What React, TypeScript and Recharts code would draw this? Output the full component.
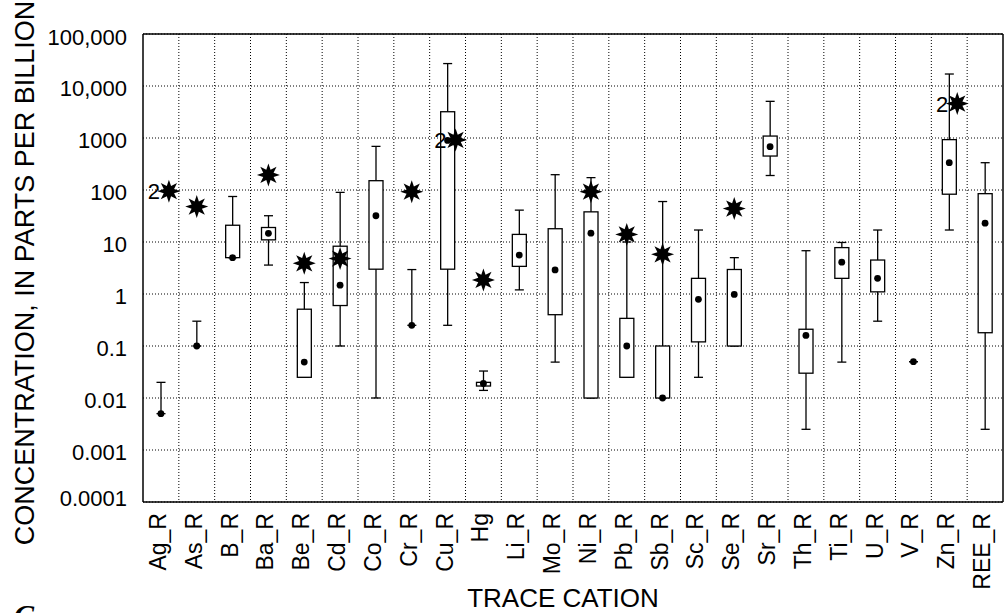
import {
  Bar,
  CartesianGrid,
  ComposedChart,
  Scatter,
  XAxis,
  YAxis,
} from "recharts";

// trace cations, one box per category
const categories = [
  "Ag_R", "As_R", "B_R", "Ba_R", "Be_R", "Cd_R", "Co_R", "Cr_R",
  "Cu_R", "Hg", "Li_R", "Mo_R", "Ni_R", "Pb_R", "Sb_R", "Sc_R",
  "Se_R", "Sr_R", "Th_R", "Ti_R", "U_R", "V_R", "Zn_R", "REE_R",
];

// concentrations in parts per billion
const whiskerLow = [
  0.005, 0.1, 5, 3.6, 0.025, 0.1, 0.01, 0.25, 0.25, 0.014, 1.2, 0.049,
  0.01, 0.025, 0.01, 0.025, 0.1, 190, 0.0025, 0.049, 0.3, 0.05, 17, 0.0025,
];
const boxLow = [
  null, null, 5, 11, 0.025, 0.6, 3, null, 3, 0.017, 3.4, 0.4,
  0.01, 0.025, 0.01, 0.12, 0.1, 450, 0.03, 2, 1.1, 0.05, 83, 0.18,
];
const medians = [
  0.005, 0.1, 5, 14.7, 0.049, 1.48, 32, 0.25, 900, 0.019, 5.6, 2.9,
  14.8, 0.1, 0.01, 0.79, 0.98, 680, 0.16, 4.1, 2, 0.05, 335, 23,
];
const boxHigh = [
  null, null, 21, 19, 0.51, 8.3, 151, null, 3200, 0.02, 14, 18,
  38, 0.34, 0.1, 2, 2.96, 1090, 0.21, 7.8, 4.5, 0.05, 930, 85,
];
const whiskerHigh = [
  0.02, 0.3, 75, 32, 1.66, 90, 690, 2.95, 27000, 0.033, 41, 197,
  173, 10, 60, 17, 5, 5070, 6.8, 9.8, 17, 0.05, 17000, 335,
];
const extremes = [
  95, 48, null, 195, 3.9, 4.8, null, 93, 920, 1.86, null, null,
  93, 14, 5.8, null, 44, null, null, null, null, null, 4600, null,
];
const extremeCounts = [
  2, 1, null, 1, 1, 1, null, 1, 2, 1, null, null,
  1, 1, 1, null, 1, null, null, null, null, null, 2, null,
];

const yTicks = [0.0001, 0.001, 0.01, 0.1, 1, 10, 100, 1000, 10000, 100000];
const yTickLabels = [
  "0.0001", "0.001", "0.01", "0.1", "1", "10", "100", "1000", "10,000", "100,000",
];
const minorTicks = yTicks.slice(0, -1).flatMap((d) =>
  [2, 3, 4, 5, 6, 7, 8, 9].map((m) => +(m * d).toPrecision(3))
);

const rows = categories.map((name, i) => ({
  name,
  low: whiskerLow[i],
  q1: boxLow[i],
  median: medians[i],
  q3: boxHigh[i],
  high: whiskerHigh[i],
  extreme: extremes[i],
  count: extremeCounts[i],
}));

const FONT = '"Liberation Sans", Arial, Helvetica, sans-serif';
const yDomain = [0.0001, 100000];
const ok = (...v: any[]) => v.every((n) => Number.isFinite(n));

function WhiskerShape(props: any) {
  const { x, y, width, height } = props;
  if (!ok(x, y, width, height)) return null;
  const cx = x + width / 2;
  const y2 = y + height;
  return (
    <g stroke="#000" strokeWidth={1.3}>
      <line x1={cx} x2={cx} y1={y} y2={y2} />
      <line x1={cx - 4.5} x2={cx + 4.5} y1={y} y2={y} />
      <line x1={cx - 4.5} x2={cx + 4.5} y1={y2} y2={y2} />
    </g>
  );
}

function BoxShape(props: any) {
  const { x, y, width, height, payload } = props;
  if (payload.q1 == null || !ok(x, y, width, height)) return null;
  const top = Math.min(y, y + height);
  return (
    <rect
      x={x}
      y={top}
      width={width}
      height={Math.abs(height)}
      fill="#fff"
      stroke="#000"
      strokeWidth={1.3}
    />
  );
}

function MedianDot(props: any) {
  const { cx, cy } = props;
  if (!ok(cx, cy)) return null;
  return <circle cx={cx} cy={cy} r={3.4} fill="#000" />;
}

function starPath(cx: number, cy: number, R: number, r: number) {
  const pts: string[] = [];
  for (let k = 0; k < 16; k++) {
    const a = -Math.PI / 2 + (k * Math.PI) / 8;
    const rad = k % 2 === 0 ? R : r;
    pts.push(`${cx + rad * Math.cos(a)},${cy + rad * Math.sin(a)}`);
  }
  return `M${pts.join("L")}Z`;
}

function StarShape(props: any) {
  const { cx, cy, payload } = props;
  if (payload.extreme == null || !ok(cx, cy)) return null;
  const multi = payload.count > 1;
  const sx = multi ? cx + 8 : cx;
  return (
    <g>
      <path d={starPath(sx, cy, 11.5, 5.6)} fill="#000" />
      {multi && (
        <text
          x={sx - 9}
          y={cy + 8}
          textAnchor="end"
          fontFamily={FONT}
          fontSize={22}
          fill="#000"
        >
          {payload.count}
        </text>
      )}
    </g>
  );
}

function XTick(props: any) {
  const { x, y, payload } = props;
  const tx = x + 5;
  const ty = y + 11;
  return (
    <text
      x={tx}
      y={ty}
      transform={`rotate(-90, ${tx}, ${ty})`}
      textAnchor="end"
      fontFamily={FONT}
      fontSize={23}
      fill="#000"
    >
      {payload.value}
    </text>
  );
}

function YTick(props: any) {
  const { x, y, payload } = props;
  const i = yTicks.indexOf(payload.value);
  const shift = i === yTicks.length - 1 ? 3 : i === 0 ? -4.5 : 1.5;
  return (
    <text
      x={x - 16}
      y={y + 8 + shift}
      textAnchor="end"
      fontFamily={FONT}
      fontSize={22}
      fill="#000"
    >
      {yTickLabels[i]}
    </text>
  );
}

export default function App() {
  return (
    <div
      style={{
        position: "absolute",
        left: 0,
        top: 0,
        width: 1005,
        height: 613,
        overflow: "hidden",
        background: "#fff",
      }}
    >
      <ComposedChart
        width={1005}
        height={613}
        data={rows}
        margin={{ top: 34, right: 2, bottom: 0, left: 0 }}
        barGap={-14}
      >
        <CartesianGrid
          stroke="#000"
          strokeDasharray="1 2"
          verticalCoordinatesGenerator={({ offset }: any) =>
            categories
              .slice(1)
              .map((_, i) => offset.left + (offset.width * (i + 1)) / categories.length)
          }
        />
        <XAxis
          dataKey="name"
          type="category"
          interval={0}
          height={111}
          tickLine={false}
          tickSize={0}
          tickMargin={0}
          axisLine={{ stroke: "#000", strokeWidth: 1.5 }}
          tick={<XTick />}
          label={{
            content: ({ viewBox }: any) => (
              <text
                x={viewBox.x + viewBox.width / 2 - 10}
                y={viewBox.y + viewBox.height - 6}
                textAnchor="middle"
                fontFamily={FONT}
                fontSize={26}
                fill="#000"
              >
                TRACE CATION
              </text>
            ),
          }}
        />
        <XAxis
          xAxisId="top"
          dataKey="name"
          orientation="top"
          mirror
          tick={false}
          tickLine={false}
          axisLine={{ stroke: "#000", strokeWidth: 1.5 }}
        />
        <YAxis
          type="number"
          scale="log"
          domain={yDomain}
          allowDataOverflow
          ticks={yTicks}
          width={143}
          tickLine={false}
          tickSize={0}
          tickMargin={0}
          axisLine={{ stroke: "#000", strokeWidth: 1.5 }}
          tick={<YTick />}
          label={{
            content: ({ viewBox }: any) => {
              const cx = 34;
              const cy = viewBox.y + viewBox.height / 2 + 5;
              return (
                <text
                  x={cx}
                  y={cy}
                  transform={`rotate(-90, ${cx}, ${cy})`}
                  textAnchor="middle"
                  fontFamily={FONT}
                  fontSize={27}
                  fill="#000"
                >
                  CONCENTRATION, IN PARTS PER BILLION
                </text>
              );
            },
          }}
        />
        <YAxis
          yAxisId="majorL"
          type="number"
          scale="log"
          domain={yDomain}
          allowDataOverflow
          ticks={yTicks}
          mirror
          tick={false}
          tickSize={6}
          axisLine={false}
          tickLine={{ stroke: "#000" }}
        />
        <YAxis
          yAxisId="minorL"
          type="number"
          scale="log"
          domain={yDomain}
          allowDataOverflow
          ticks={minorTicks}
          mirror
          tick={false}
          tickSize={3.5}
          axisLine={false}
          tickLine={{ stroke: "#000" }}
        />
        <YAxis
          yAxisId="majorR"
          orientation="right"
          type="number"
          scale="log"
          domain={yDomain}
          allowDataOverflow
          ticks={yTicks}
          mirror
          tick={false}
          tickSize={6}
          axisLine={{ stroke: "#000", strokeWidth: 1.5 }}
          tickLine={{ stroke: "#000" }}
        />
        <YAxis
          yAxisId="minorR"
          orientation="right"
          type="number"
          scale="log"
          domain={yDomain}
          allowDataOverflow
          ticks={minorTicks}
          mirror
          tick={false}
          tickSize={3.5}
          axisLine={false}
          tickLine={{ stroke: "#000" }}
        />
        <Bar
          dataKey={(d: any) => [d.low, d.high]}
          barSize={14}
          shape={<WhiskerShape />}
          isAnimationActive={false}
        />
        <Bar
          dataKey={(d: any) => (d.q1 == null ? [d.low, d.low] : [d.q1, d.q3])}
          barSize={14}
          shape={<BoxShape />}
          isAnimationActive={false}
        />
        <Scatter dataKey="median" shape={<MedianDot />} isAnimationActive={false} />
        <Scatter dataKey="extreme" shape={<StarShape />} isAnimationActive={false} />
      </ComposedChart>
      <div
        style={{
          position: "absolute",
          left: 14,
          top: 600,
          fontFamily: '"Liberation Serif", serif',
          fontStyle: "italic",
          fontWeight: "bold",
          fontSize: 30,
          lineHeight: "30px",
        }}
      >
        C
      </div>
    </div>
  );
}
